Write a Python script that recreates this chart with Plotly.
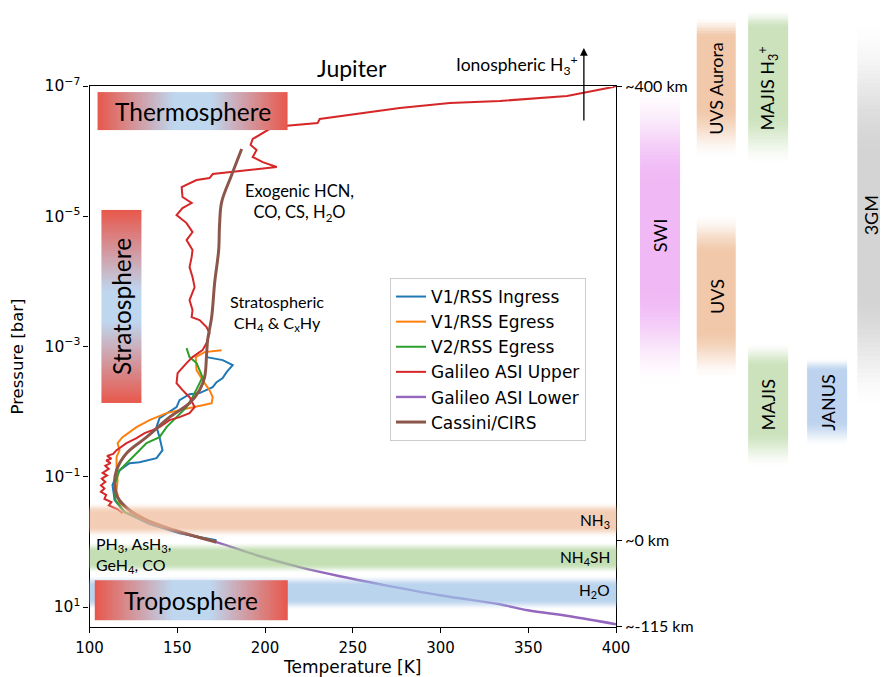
import numpy as np
import plotly.graph_objects as go

# ---------------- data ----------------
temperature_ticks = [100, 150, 200, 250, 300, 350, 400]
pressure_tick_exponents = [-7, -5, -3, -1, 1]
altitude_labels = ["~400 km", "~0 km", "~-115 km"]
altitude_pressures = [1e-7, 0.94, 19.8]

v1_ingress_T = [166.7, 175.9, 181.6, 178.1, 175.9, 172.4, 170.2, 166.7, 162.7, 157.0,
                151.3, 149.6, 143.9, 139.9, 138.2, 139.9, 141.6, 138.2, 128.5, 122.8,
                118.8, 116.0, 113.1, 114.3, 120.0, 134.2, 151.3, 172.4]
v1_ingress_logp = [-2.837, -2.791, -2.714, -2.607, -2.514, -2.453, -2.376, -2.330, -2.284, -2.268,
                   -2.176, -2.069, -1.977, -1.900, -1.762, -1.608, -1.408, -1.285, -1.224, -1.209,
                   -1.132, -1.070, -0.871, -0.640, -0.456, -0.272, -0.133, -0.026]

v1_egress_T = [175.3, 165.6, 160.5, 161.0, 165.6, 168.4, 170.2, 169.6, 164.4, 158.7,
               151.3, 143.9, 134.2, 126.8, 118.8, 116.0, 117.1, 115.4, 115.4, 116.0,
               115.4, 117.1, 122.8, 134.2, 151.3, 171.3]
v1_egress_logp = [-2.944, -2.914, -2.837, -2.637, -2.437, -2.330, -2.222, -2.130, -2.099, -2.069,
                  -2.023, -1.977, -1.869, -1.762, -1.608, -1.516, -1.408, -1.301, -1.147, -0.947,
                  -0.794, -0.594, -0.487, -0.318, -0.149, -0.010]

v2_egress_T = [155.3, 157.0, 161.0, 164.4, 161.6, 158.7, 155.3, 149.6, 143.9, 139.9,
               132.5, 128.5, 124.5, 121.1, 117.1, 114.3, 114.8, 120.0, 134.2, 151.3, 171.3]
v2_egress_logp = [-2.975, -2.837, -2.745, -2.530, -2.376, -2.222, -2.069, -1.915, -1.762, -1.608,
                  -1.516, -1.408, -1.301, -1.209, -1.101, -0.871, -0.640, -0.456, -0.302, -0.149, -0.010]

galileo_upper_T = [400.0, 398.3, 372.1, 333.8, 305.3, 276.8, 231.2, 230.0, 204.4, 193.0,
                   191.8, 195.2, 193.0, 198.7, 206.7, 181.6, 170.2, 168.4, 161.0, 152.5,
                   153.0, 158.2, 153.0, 149.6, 155.3, 158.7, 155.3, 158.7, 158.2, 157.0,
                   158.7, 159.9, 157.0, 158.7, 158.2, 162.7, 166.7, 168.4, 166.7, 164.4,
                   158.7, 155.3, 150.2, 149.6, 153.0, 157.0, 159.9, 157.0, 151.3, 145.6,
                   139.9, 135.9, 131.4, 126.8, 121.1, 115.4, 113.5, 110.0, 112.5, 109.5,
                   112.0, 109.0, 111.0, 107.5, 110.0, 107.0, 109.0, 106.5, 108.5, 106.5,
                   109.5, 108.5, 112.5, 111.0, 116.0, 118.8]
galileo_upper_logp = [-7.0, -6.985, -6.846, -6.770, -6.739, -6.662, -6.493, -6.432, -6.370, -6.186,
                      -6.094, -6.017, -5.909, -5.832, -5.756, -5.679, -5.648, -5.587, -5.556, -5.448,
                      -5.295, -5.203, -5.126, -5.018, -4.895, -4.757, -4.634, -4.481, -4.373, -4.219,
                      -4.066, -3.912, -3.713, -3.560, -3.451, -3.405, -3.298, -3.206, -3.052, -2.944,
                      -2.837, -2.745, -2.591, -2.437, -2.330, -2.222, -2.069, -1.977, -1.915, -1.869,
                      -1.762, -1.715, -1.669, -1.593, -1.516, -1.408, -1.35, -1.32, -1.28, -1.25,
                      -1.21, -1.17, -1.12, -1.06, -1.02, -0.97, -0.92, -0.87, -0.82, -0.77,
                      -0.72, -0.66, -0.61, -0.56, -0.50, -0.44]

galileo_lower_T = [122.8, 134.2, 151.3, 172.4, 195.2, 219.8, 242.6, 265.4, 299.6, 333.8, 349.8, 373.8, 400.0]
galileo_lower_logp = [-0.456, -0.302, -0.149, 0.005, 0.205, 0.389, 0.528, 0.650, 0.819, 0.958, 1.050, 1.142, 1.265]

cassini_T = [186.7, 181.0, 175.3, 174.1, 173.6, 171.3, 169.6, 167.3, 166.7, 165.6,
             162.7, 157.0, 145.6, 132.5, 121.1, 115.4, 114.3, 116.0, 122.8, 132.5, 148.5, 172.4]
cassini_logp = [-6.032, -5.633, -5.218, -4.865, -4.481, -3.974, -3.451, -3.098, -2.868, -2.530,
                -2.330, -2.130, -1.915, -1.608, -1.362, -1.101, -0.901, -0.686, -0.487, -0.333, -0.179, 0.005]

# cloud decks
cloud_names = ["NH<sub>3</sub>", "NH<sub>4</sub>SH", "H<sub>2</sub>O"]
cloud_top_p = [0.246, 1.01, 3.25]
cloud_bottom_p = [0.85, 3.03, 11.2]

# atmospheric layers (temperature span, pressure span)
layer_names = ["Thermosphere", "Stratosphere", "Troposphere"]
layer_T0 = [104.6, 106.8, 103.0]
layer_T1 = [212.9, 129.7, 212.9]
layer_p_top = [1.24e-7, 8.0e-6, 3.88]
layer_p_bot = [4.74e-7, 7.4e-3, 16.0]

# instrument coverage (pressure in bar)
instrument_names = ["SWI", "UVS Aurora", "MAJIS H<sub>3</sub><sup>+</sup>", "UVS", "MAJIS", "JANUS", "3GM"]
instrument_p_top = [9.7e-8, 8.7e-9, 6.8e-9, 8.9e-6, 8.6e-4, 1.5e-3, 8.7e-9]
instrument_p_bot = [4.2e-3, 1.37e-6, 1.75e-6, 3.3e-3, 0.074, 0.035, 0.0105]

# ---------------- style / layout ----------------
# the page body adds an 8 px offset; the figure is sized to the visible area
OFF = 8
FW, FH = 888 - OFF, 677 - OFF
PX_L, PX_R, PX_T, PX_B = 89.5, 616, 86, 627   # frame in window pixels
YR = [1.307, -7.0]
dec_per_px = (YR[0] - YR[1]) / (PX_B - PX_T)
T_per_px = 300.0 / (PX_R - PX_L)
X2R = [100 - (PX_L - OFF) * T_per_px, 400 + (888 - PX_R) * T_per_px]
Y2R = [YR[0] + (677 - PX_B) * dec_per_px, YR[1] - (PX_T - OFF) * dec_per_px]


def px(x, y):
    return (x - OFF) / FW, 1 - (y - OFF) / FH


inst_col = [0, 1, 2, 1, 2, 3, 4]
col_x = [(413.7, 436.5), (446.0, 468.5), (475.3, 498.1), (508.9, 531.7), (537.5, 562.0)]
col_label_x = [425.1, 457.2, 486.7, 520.3, 545.5]
inst_rgb = [(240, 185, 245), (241, 200, 170), (203, 226, 188), (241, 200, 170), (203, 226, 188),
            (188, 210, 238), (212, 212, 212)]
inst_fade = [(0.32, 0.32), (0.15, 0.38), (0.12, 0.35), (0.25, 0.3), (0.2, 0.3), (0.15, 0.3), (0.35, 0.3)]
cloud_rgb = [(238, 186, 152), (172, 210, 150), (160, 195, 232)]
cloud_alpha = 0.72

RED = "#e8574b"
BLUE = "#bed6ee"
TXT_FONT = "Lato"
TICK_FONT = "DejaVu Sans"
colors = {"V1/RSS Ingress": "#1f77b4", "V1/RSS Egress": "#ff7f0e", "V2/RSS Egress": "#2ca02c",
          "Galileo ASI Upper": "#d62728", "Galileo ASI Lower": "#9467bd", "Cassini/CIRS": "#8c564b"}


def profile(n, f_top, f_bot):
    t = (np.arange(n) + 0.5) / n
    p = np.clip(np.minimum(t / f_top, (1 - t) / f_bot), 0, 1)
    return p * p * (3 - 2 * p)


def vgrad(x0, x1, p0, p1, rgb, ftop, fbot, amax=1.0, n=90, xa="x2", ya="y2"):
    e = np.linspace(np.log10(p0), np.log10(p1), n + 1)
    z = profile(n, ftop, fbot).reshape(-1, 1)
    r, g, b = rgb
    return go.Heatmap(x=[x0, x1], y=10 ** e, z=z, zmin=0, zmax=1,
                      colorscale=[[0, f"rgba({r},{g},{b},0)"], [1, f"rgba({r},{g},{b},{amax})"]],
                      showscale=False, hoverinfo="skip", xaxis=xa, yaxis=ya)


fig = go.Figure()

# main profiles
series = [("V1/RSS Ingress", v1_ingress_T, v1_ingress_logp, 2, "linear"),
          ("V1/RSS Egress", v1_egress_T, v1_egress_logp, 2, "linear"),
          ("V2/RSS Egress", v2_egress_T, v2_egress_logp, 2, "linear"),
          ("Galileo ASI Upper", galileo_upper_T, galileo_upper_logp, 2, "linear"),
          ("Galileo ASI Lower", galileo_lower_T, galileo_lower_logp, 2.4, "spline"),
          ("Cassini/CIRS", cassini_T, cassini_logp, 3, "spline")]
for name, T, lp, w, shape in series:
    fig.add_trace(go.Scatter(x=T, y=10 ** np.array(lp), mode="lines", name=name,
                             line=dict(color=colors[name], width=w, shape=shape),
                             xaxis="x", yaxis="y"))

# dummy trace for right altitude axis
fig.add_trace(go.Scatter(x=[None], y=[None], xaxis="x", yaxis="y3", showlegend=False, hoverinfo="skip"))

# cloud bands (overlay, semi transparent)
for i in range(3):
    fig.add_trace(vgrad(100, 400, cloud_top_p[i], cloud_bottom_p[i], cloud_rgb[i], 0.3, 0.3,
                        amax=cloud_alpha))

# layer boxes
for i, name in enumerate(layer_names):
    n = 80
    if name == "Stratosphere":
        e = np.linspace(np.log10(layer_p_top[i]), np.log10(layer_p_bot[i]), n + 1)
        z = ((np.arange(n) + 0.5) / n).reshape(-1, 1)
        fig.add_trace(go.Heatmap(x=[layer_T0[i], layer_T1[i]], y=10 ** e, z=z, zmin=0, zmax=1,
                                 colorscale=[[0, RED], [0.42, BLUE], [0.58, BLUE], [1, RED]],
                                 showscale=False, hoverinfo="skip", xaxis="x2", yaxis="y2"))
    else:
        xs = np.linspace(layer_T0[i], layer_T1[i], n + 1)
        z = ((np.arange(n) + 0.5) / n).reshape(1, -1)
        fig.add_trace(go.Heatmap(x=xs, y=[layer_p_top[i], layer_p_bot[i]], z=z, zmin=0, zmax=1,
                                 colorscale=[[0, RED], [0.4, BLUE], [0.6, BLUE], [1, RED]],
                                 showscale=False, hoverinfo="skip", xaxis="x2", yaxis="y2"))

# instrument bars
for i, name in enumerate(instrument_names):
    x0, x1 = col_x[inst_col[i]]
    ft, fb = inst_fade[i]
    fig.add_trace(vgrad(x0, x1, instrument_p_top[i], instrument_p_bot[i], inst_rgb[i], ft, fb))

annotations = []
# layer labels
for i, name in enumerate(layer_names):
    xc = (layer_T0[i] + layer_T1[i]) / 2
    yc = (np.log10(layer_p_top[i]) + np.log10(layer_p_bot[i])) / 2
    annotations.append(dict(x=xc, y=yc, xref="x", yref="y", text=name, showarrow=False,
                            textangle=-90 if name == "Stratosphere" else 0,
                            font=dict(family=TXT_FONT, size=24.5, color="black")))
# instrument labels
for i, name in enumerate(instrument_names):
    yc = (np.log10(instrument_p_top[i]) + np.log10(instrument_p_bot[i])) / 2
    annotations.append(dict(x=col_label_x[inst_col[i]], y=yc, xref="x2", yref="y2", text=name,
                            showarrow=False, textangle=-90,
                            font=dict(family=TXT_FONT, size=18, color="black")))
# cloud labels
cloud_label_logp = [-0.318, 0.251, 0.758]
for i, name in enumerate(cloud_names):
    annotations.append(dict(x=397.5, y=cloud_label_logp[i], xref="x", yref="y", text=name,
                            showarrow=False, xanchor="right",
                            font=dict(family=TXT_FONT, size=15.5, color="black")))
# other text
jx, jy = px(352, 68)
ix, iy = px(580, 65)
_, ay_head = px(0, 48)
annotations += [
    dict(x=219.8, y=-5.218, xref="x", yref="y", text="Exogenic HCN,<br>CO, CS, H<sub>2</sub>O",
         showarrow=False, font=dict(family=TXT_FONT, size=16.5, color="black")),
    dict(x=206.7, y=-3.513, xref="x", yref="y", text="Stratospheric<br>CH<sub>4</sub> &amp; C<sub>x</sub>Hy",
         showarrow=False, font=dict(family=TXT_FONT, size=16.2, color="black")),
    dict(x=102.5, y=0.205, xref="x", yref="y", text="PH<sub>3</sub>, AsH<sub>3</sub>,<br>GeH<sub>4</sub>, CO",
         showarrow=False, xanchor="left", align="left", font=dict(family=TXT_FONT, size=16, color="black")),
    dict(x=jx, y=jy, xref="paper", yref="paper", text="Jupiter", showarrow=False,
         xanchor="center", yanchor="middle", font=dict(family=TXT_FONT, size=23, color="black")),
    dict(x=ix, y=iy, xref="paper", yref="paper", text="Ionospheric H<sub>3</sub><sup>+</sup>",
         showarrow=False, xanchor="right", yanchor="middle",
         font=dict(family=TXT_FONT, size=17.5, color="black")),
    dict(x=381.7, y=ay_head, xref="x", yref="paper", ax=0, ay=74, axref="pixel", ayref="pixel",
         text="", showarrow=True, arrowhead=2, arrowsize=1.2, arrowwidth=1.3, arrowcolor="black"),
]

lx, ly = px(390, 278)
fig.update_layout(
    width=FW, height=FH, margin=dict(l=0, r=0, t=0, b=0, autoexpand=False),
    paper_bgcolor="white", plot_bgcolor="rgba(0,0,0,0)",
    showlegend=True,
    legend=dict(x=lx, y=ly, xanchor="left", yanchor="top",
                bgcolor="white", bordercolor="#cccccc", borderwidth=1,
                font=dict(family=TICK_FONT, size=17, color="black")),
    xaxis=dict(domain=[(PX_L - OFF) / FW, (PX_R - OFF) / FW], range=[100, 400], tickvals=temperature_ticks,
               ticks="outside", ticklen=5, tickwidth=1.2, tickcolor="black", ticklabelstandoff=2,
               showline=True, linecolor="black", linewidth=1.2, mirror=True,
               showgrid=False, zeroline=False, anchor="y", automargin=False,
               tickfont=dict(family=TICK_FONT, size=15, color="black"),
               title=dict(text="Temperature [K]", standoff=6,
                          font=dict(family=TICK_FONT, size=17, color="black"))),
    yaxis=dict(domain=[1 - (PX_B - OFF) / FH, 1 - (PX_T - OFF) / FH], type="log", range=YR,
               tickvals=[10.0 ** e for e in pressure_tick_exponents],
               ticktext=[f"10<sup>{'−' if e < 0 else ''}{abs(e)}</sup>" for e in pressure_tick_exponents],
               ticks="outside", ticklen=5, tickwidth=1.2, tickcolor="black",
               showline=True, linecolor="black", linewidth=1.2, mirror=True,
               showgrid=False, zeroline=False, anchor="x", automargin=False,
               tickfont=dict(family=TICK_FONT, size=15.5, color="black"),
               title=dict(text="Pressure [bar]", standoff=16,
                          font=dict(family=TICK_FONT, size=16.5, color="black"))),
    yaxis3=dict(overlaying="y", side="right", anchor="x", type="log", range=YR,
                tickvals=altitude_pressures, ticktext=altitude_labels, automargin=False,
                ticks="outside", ticklen=5, tickwidth=1.2, tickcolor="black",
                showline=False, showgrid=False, zeroline=False,
                tickfont=dict(family=TXT_FONT, size=16, color="black")),
    xaxis2=dict(domain=[0, 1], range=X2R, visible=False, anchor="y2", fixedrange=True, automargin=False),
    yaxis2=dict(domain=[0, 1], type="log", range=Y2R, visible=False, anchor="x2", fixedrange=True,
                automargin=False),
    annotations=annotations,
)

fig.write_html("out.html")
